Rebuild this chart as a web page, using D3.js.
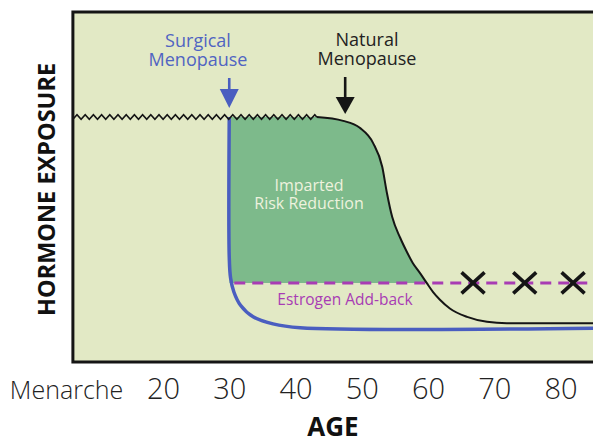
<!DOCTYPE html>
<html>
<head>
<meta charset="utf-8">
<script src="https://cdn.jsdelivr.net/npm/d3@7"></script>
<style>
    html, body { margin: 0; padding: 0; background: #fff; }
    svg { display: block; font-family: "Open Sans", "Noto Sans", sans-serif; }
</style>
</head>
<body>
<div id="chart"></div>
<script>
// ---- data ----
var ageTicks = [20, 30, 40, 50, 60, 70, 80];
var menarcheLabel = 'Menarche';
var menarcheAge = 14;          // where the label ends
var plotStartAge = 6.4;
var plateauLevel = 70;         // pre-menopause hormone exposure
var premenopauseEnd = 43.2;    // end of the fluctuating (zigzag) part
var surgicalAge = 30;
var naturalAge = 47.5;
var addBackLevel = 22.6;

var naturalAges   = [43.2, 47.2, 49.7, 51.7, 53.1, 53.8, 54.6, 55.8, 56.8, 57.7, 58.8, 59.8, 60.8, 61.8, 63.3, 65.9, 68.9, 71.9, 86];
var naturalLevels = [70,   68.9, 66.9, 62.6, 55.7, 48.3, 41.4, 35.5, 31.5, 28.3, 25.4, 22.6, 19.9, 17.8, 15.3, 12.9, 11.5, 11.1, 11.1];

var surgicalAges   = [30, 30,  30.2, 30.7, 31.7, 33.6, 36.6, 40.7, 86];
var surgicalLevels = [70, 30,  24,   20.0, 16.2, 12.9, 10.9, 9.8,  9.7];

var stopAges = [66.8, 74.6, 81.9];

var colors = {
    bg: '#e2e9c5',
    green: '#7dba8b',
    blue: '#4a5ec0',
    blueText: '#5064c2',
    magenta: '#a83cb4',
    ink: '#151515'
};

var width = 593, height = 439;

var x = d3.scaleLinear().domain([20, 80]).range([163, 560.5]);
var y = d3.scaleLinear().domain([0, 100]).range([362, 12]);

var svg = d3.select('#chart').append('svg')
    .attr('width', width)
    .attr('height', height);

var natural = naturalAges.map(function(a, i) { return {age: a, level: naturalLevels[i]}; });
var surgical = surgicalAges.map(function(a, i) { return {age: a, level: surgicalLevels[i]}; });

// plot background
var plotLeft = x(plotStartAge), plotTop = y(100), plotBottom = y(0);
svg.append('rect')
    .attr('x', plotLeft).attr('y', plotTop)
    .attr('width', width + 20 - plotLeft).attr('height', plotBottom - plotTop)
    .attr('fill', colors.bg);

// imparted risk reduction area
svg.append('defs').append('clipPath').attr('id', 'green_clip').append('rect')
    .attr('x', x(surgicalAge)).attr('y', plotTop)
    .attr('width', width - x(surgicalAge)).attr('height', y(addBackLevel) - plotTop);

var areaData = [{age: surgicalAge, level: plateauLevel}].concat(natural);
svg.append('path')
    .datum(areaData)
    .attr('clip-path', 'url(#green_clip)')
    .attr('fill', colors.green)
    .attr('d', d3.area()
        .curve(d3.curveMonotoneX)
        .x(function(d) { return x(d.age); })
        .y0(y(addBackLevel))
        .y1(function(d) { return y(d.level); }));

// estrogen add-back level
svg.append('line')
    .attr('x1', x(surgicalAge) + 5).attr('x2', width + 10)
    .attr('y1', y(addBackLevel)).attr('y2', y(addBackLevel))
    .attr('stroke', colors.magenta)
    .attr('stroke-width', 3)
    .attr('stroke-dasharray', '11,7');

// surgical menopause curve
svg.append('path')
    .datum(surgical)
    .attr('fill', 'none')
    .attr('stroke', colors.blue)
    .attr('stroke-width', 3.5)
    .attr('d', d3.line()
        .curve(d3.curveCatmullRom.alpha(0.5))
        .x(function(d) { return x(d.age); })
        .y(function(d) { return y(d.level); }));

// natural menopause curve
svg.append('path')
    .datum(natural)
    .attr('fill', 'none')
    .attr('stroke', colors.ink)
    .attr('stroke-width', 2)
    .attr('d', d3.line()
        .curve(d3.curveMonotoneX)
        .x(function(d) { return x(d.age); })
        .y(function(d) { return y(d.level); }));

// fluctuating pre-menopause exposure drawn as a zigzag
var zx0 = x(plotStartAge), zx1 = x(premenopauseEnd), zy = y(plateauLevel), zig = [];
for (var px = zx0, i = 0; px <= zx1; px += 4.1, i++) {
    zig.push([px, zy + (i % 2 ? -2.3 : 2.3)]);
}
zig.push([zx1, zy]);
svg.append('path')
    .attr('fill', 'none')
    .attr('stroke', colors.ink)
    .attr('stroke-width', 1.6)
    .attr('d', d3.line()(zig));

// X markers on the add-back line
var cross = svg.append('g').selectAll('g').data(stopAges).enter().append('g')
    .attr('transform', function(d) { return 'translate(' + x(d) + ',' + y(addBackLevel) + ')'; });
cross.append('path')
    .attr('d', 'M-11.5,-10.5L11.5,10.5M-11.5,10.5L11.5,-10.5')
    .attr('stroke', colors.ink)
    .attr('stroke-width', 3.6)
    .attr('fill', 'none');

// arrows
function arrow(ax, y0, tip, headW, headH, color) {
    var g = svg.append('g');
    g.append('line')
        .attr('x1', ax).attr('x2', ax)
        .attr('y1', y0).attr('y2', tip - headH + 2)
        .attr('stroke', color).attr('stroke-width', 2.6);
    g.append('path')
        .attr('d', 'M' + (ax - headW / 2) + ',' + (tip - headH) + 'L' + (ax + headW / 2) + ',' + (tip - headH) + 'L' + ax + ',' + tip + 'Z')
        .attr('fill', color);
}
arrow(x(surgicalAge), 78, 108, 19, 19, colors.blue);
arrow(x(naturalAge), 77, 114, 19, 17, colors.ink);

// frame (left, top, bottom; right side runs off the picture)
svg.append('path')
    .attr('d', 'M' + (width + 10) + ',' + plotTop + 'H' + plotLeft + 'V' + plotBottom + 'H' + (width + 10))
    .attr('fill', 'none')
    .attr('stroke', colors.ink)
    .attr('stroke-width', 3);

// annotations, one text per line
function label(lines, cx, baseline, size, color, lh) {
    lines.forEach(function(s, k) {
        svg.append('text')
            .attr('x', cx).attr('y', baseline + k * lh)
            .attr('text-anchor', 'middle')
            .attr('font-size', size)
            .attr('fill', color)
            .text(s);
    });
}
label(['Surgical', 'Menopause'], 198, 47, 18, colors.blueText, 18.5);
label(['Natural', 'Menopause'], 367, 46, 18, '#222', 19);
label(['Imparted', 'Risk Reduction'], 309, 191, 16, '#eef2de', 18);
label(['Estrogen Add-back'], 345, 305, 15.5, colors.magenta, 0);

// x axis
var axis = svg.append('g')
    .attr('transform', 'translate(0,' + plotBottom + ')')
    .call(d3.axisBottom(x).tickValues(ageTicks).tickSize(0));
axis.select('.domain').remove();
axis.selectAll('text')
    .attr('y', 37).attr('dy', 0)
    .attr('font-family', '"Open Sans", "Noto Sans", sans-serif')
    .attr('font-size', 29)
    .attr('font-weight', 300)
    .attr('fill', '#222');

svg.append('text')
    .attr('x', x(menarcheAge)).attr('y', plotBottom + 37)
    .attr('text-anchor', 'end')
    .attr('font-size', 25)
    .attr('font-weight', 300)
    .attr('fill', '#222')
    .text(menarcheLabel);

svg.append('text')
    .attr('x', 333).attr('y', 436)
    .attr('text-anchor', 'middle')
    .attr('font-size', 26)
    .attr('font-weight', 700)
    .attr('fill', '#111')
    .text('AGE');

svg.append('text')
    .attr('transform', 'translate(55,189.5) rotate(-90)')
    .attr('text-anchor', 'middle')
    .attr('font-size', 23.5)
    .attr('font-weight', 700)
    .attr('fill', '#111')
    .text('HORMONE EXPOSURE');
</script>
</body>
</html>
